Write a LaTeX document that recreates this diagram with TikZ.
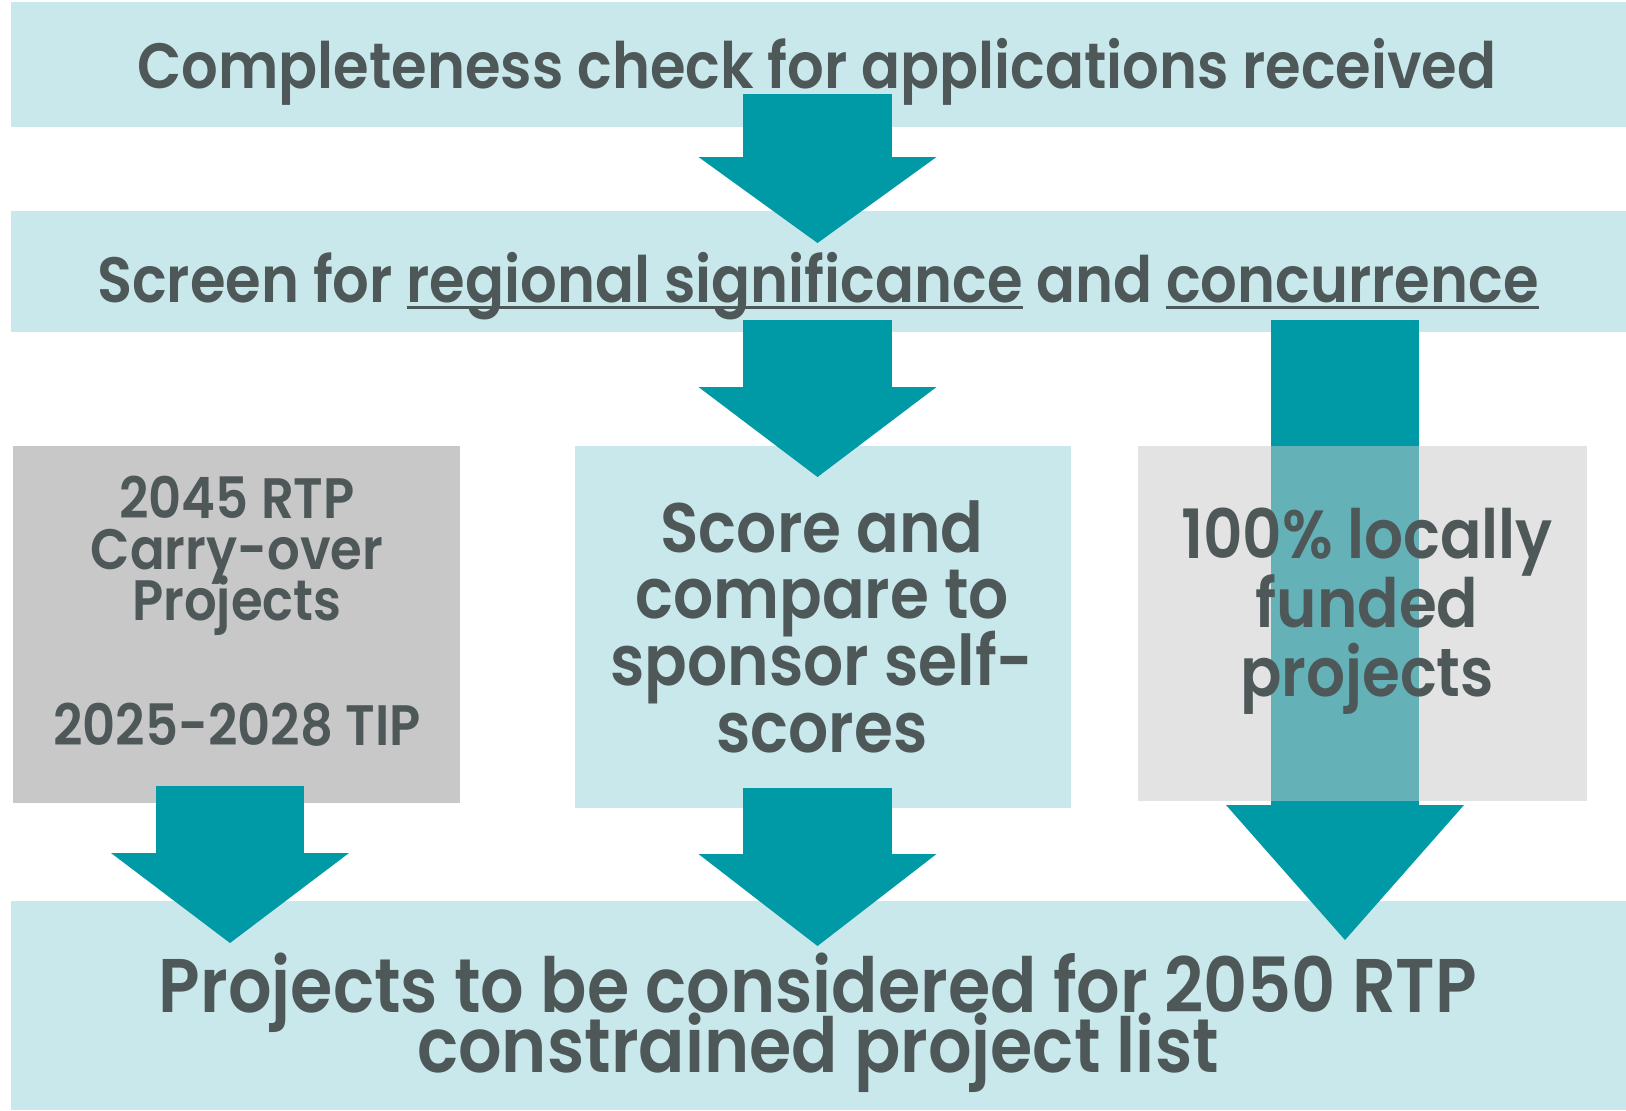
\documentclass[tikz,border=0pt]{standalone}
\usepackage{fontspec}
\setmainfont{Poppins}[BoldFont=* SemiBold,FakeStretch=0.9]
\usetikzlibrary{arrows.meta,positioning}

\definecolor{barfill}{HTML}{C9E8EB}
\definecolor{boxgray}{HTML}{C8C8C8}
\definecolor{flowteal}{HTML}{009AA7}
\definecolor{inkgray}{HTML}{4E5859}

% underline that runs through the descenders
\newcommand{\ulword}[1]{\setbox0\hbox{#1}\rlap{\rule[-3.3pt]{\wd0}{1.5pt}}\box0\relax}
% keep the baselines even
\newcommand{\tightlines}{\lineskiplimit=-100pt\relax}

\begin{document}
\begin{tikzpicture}[x=0.5pt,y=-0.5pt,
	panel/.style={inner sep=0pt,outer sep=0pt,anchor=north west},
	bar/.style={panel,fill=barfill,minimum width=807.5pt},
	txt/.style={text=inkgray,font=\bfseries,align=center,inner sep=0pt,anchor=base,
		execute at begin node=\tightlines},
	flow/.style={draw=flowteal,line width=74.25pt,
		-{Triangle[length=#1,width=119pt,line width=0pt]}},
	flow/.default=45pt]
\useasboundingbox (0,0) rectangle (1626,1110);

% bars and boxes
\node[bar,minimum height=62.5pt]	(check)		at (11,2)	{};
\node[bar,minimum height=60.5pt]	(screen)	at (11,211)	{};
\node[bar,minimum height=104.5pt]	(considered)	at (11,901)	{};
\node[panel,fill=boxgray,minimum width=223.5pt,minimum height=178.5pt]	(carry)	at (13,446)	{};
\node[panel,fill=barfill,minimum width=248pt,minimum height=181pt]	(score)	at (575,446)	{};

% arrow ends
\coordinate (a1s) at (817.5,94);	\coordinate (a1e) at (817.5,243);
\coordinate (a2s) at (817.5,320);	\coordinate (a2e) at (817.5,477);
\coordinate (a3s) at (817.5,788);	\coordinate (a3e) at (817.5,946);
\coordinate (a4s) at (230,786);		\coordinate (a4e) at (230,943);
\coordinate (a5s) at (1345,320);	\coordinate (a5e) at (1345,940);

\draw[flow=43pt]	(a1s) -- (a1e);
\draw[flow]		(a2s) -- (a2e);
\draw[flow=46pt]	(a3s) -- (a3e);
\draw[flow]		(a4s) -- (a4e);
\draw[flow=67.5pt]	(a5s) -- (a5e);

\node[panel,fill=boxgray,fill opacity=0.5,minimum width=224.5pt,minimum height=177.5pt]	(local)	at (1138,446)	{};

% texts (base = last line)
\node[txt,font=\bfseries\fontsize{32}{32}\selectfont]	(checktxt)	at (817,88)	{Completeness check for applications received};
\node[txt,font=\bfseries\fontsize{32}{32}\selectfont]	(screentxt)	at (818,302)	{Screen for \ulword{regional significance} and \ulword{concurrence}};
\node[txt,font=\bfseries\fontsize{28.5}{25.5}\selectfont]	(carrytxt)	at (237,745)	{2045 RTP\\Carry-over\\Projects\\[37pt]2025-2028 TIP};
\node[txt,font=\bfseries\fontsize{35}{33.3}\selectfont]	(scoretxt)	at (822,752)	{Score and\\compare to\\sponsor self-\\scores};
\node[txt,font=\bfseries\fontsize{34}{34.3}\selectfont]	(localtxt)	at (1367,696)	{100\% locally\\funded\\projects};
\node[txt,font=\bfseries\fontsize{38}{30}\selectfont]	(consideredtxt)	at (818,1072)	{Projects to be considered for 2050 RTP\\constrained project list};
\end{tikzpicture}
\end{document}
